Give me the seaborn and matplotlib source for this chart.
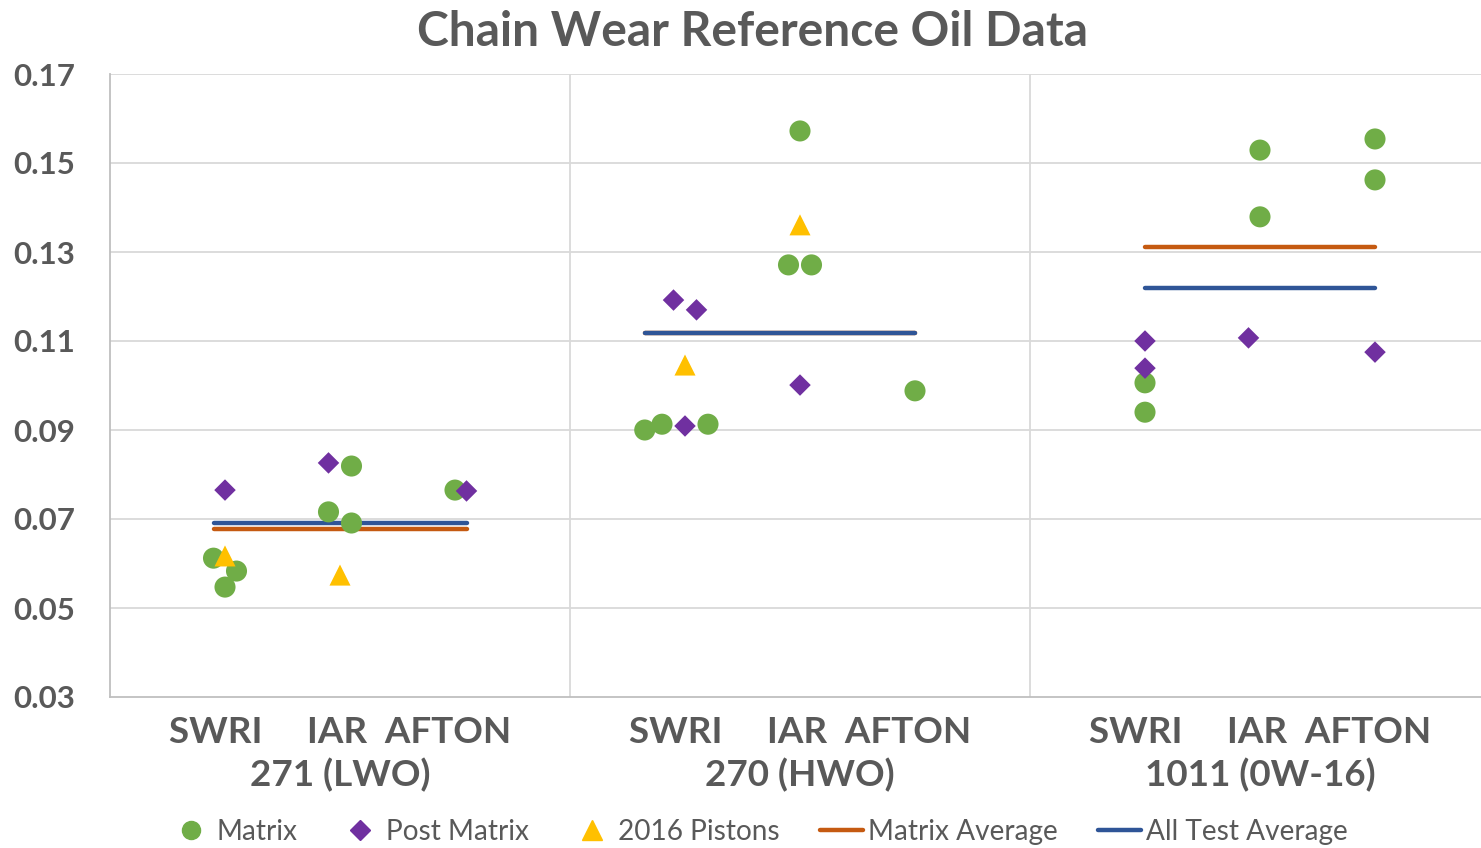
import matplotlib
matplotlib.use('Agg')
import matplotlib.pyplot as plt
from matplotlib.lines import Line2D
import pandas as pd
import seaborn as sns

# Points (x: SWRI=1,5,9  IAR=2,6,10  AFTON=3,7,11)
matrix_x = [0.9, 1.1, 1.0, 1.9, 2.1, 2.1, 3.0,
            6.0, 5.9, 6.1, 7.0, 4.65, 4.8, 5.2,
            10.0, 11.0, 11.0, 10.0, 9.0, 9.0]
matrix_y = [0.0612, 0.0583, 0.0547, 0.0716, 0.0819, 0.0691, 0.0765,
            0.1572, 0.1271, 0.1271, 0.0988, 0.0900, 0.0913, 0.0913,
            0.1529, 0.1554, 0.1462, 0.1379, 0.1006, 0.0940]

post_x = [1.0, 1.9, 3.1, 4.9, 5.1, 6.0, 5.0, 9.0, 9.0, 9.9, 11.0]
post_y = [0.0765, 0.0826, 0.0763, 0.1192, 0.1170, 0.1001, 0.0909,
          0.1100, 0.1039, 0.1107, 0.1075]

pistons_x = [1.0, 2.0, 6.0, 5.0]
pistons_y = [0.0617, 0.0574, 0.1361, 0.1046]

# averages per oil, drawn across each group
avg_start = [0.9, 4.65, 9.0]
avg_end = [3.1, 7.0, 11.0]
matrix_avg = [0.0678, 0.1119, 0.1311]
all_avg = [0.0691, 0.1118, 0.1219]

oils = ['271 (LWO)', '270 (HWO)', '1011 (0W-16)']
oil_centers = [2, 6, 10]
labs = 'SWRI     IAR  AFTON'

colors = {'Matrix': '#70AD47', 'Post Matrix': '#7030A0', '2016 Pistons': '#FFC000',
          'Matrix Average': '#C55A11', 'All Test Average': '#2F5597'}
grey = '#595959'

sns.set_theme(style='white')
plt.rcParams['font.family'] = ['Lato', 'DejaVu Sans']

pts = pd.concat([
    pd.DataFrame({'x': matrix_x, 'y': matrix_y, 'series': 'Matrix'}),
    pd.DataFrame({'x': post_x, 'y': post_y, 'series': 'Post Matrix'}),
    pd.DataFrame({'x': pistons_x, 'y': pistons_y, 'series': '2016 Pistons'}),
], ignore_index=True)

rows = []
for name, vals in [('Matrix Average', matrix_avg), ('All Test Average', all_avg)]:
    for i, v in enumerate(vals):
        rows.append({'x': avg_start[i], 'y': v, 'series': name, 'grp': i})
        rows.append({'x': avg_end[i], 'y': v, 'series': name, 'grp': i})
lines = pd.DataFrame(rows)

fig = plt.figure(figsize=(14.81, 8.48), dpi=100)
ax = fig.add_axes([110 / 1481, 1 - 697 / 848, 1380 / 1481, (697 - 74) / 848])

sns.lineplot(data=lines, x='x', y='y', hue='series', units='grp', estimator=None,
             sort=False, palette=colors, linewidth=3.2, legend=False, ax=ax,
             solid_capstyle='round', zorder=2)
sns.scatterplot(data=pts, x='x', y='y', hue='series', style='series',
                markers={'Matrix': 'o', 'Post Matrix': 'D', '2016 Pistons': '^'},
                s=230, palette=colors, linewidth=0, legend=False,
                ax=ax, zorder=3)
# diamonds a touch smaller than circles
coll = ax.collections[-1]
coll.set_sizes([230 if s != 'Post Matrix' else 120 for s in pts['series']])

ax.set_xlim(0, 12)
ax.set_ylim(0.03, 0.17)
ax.set_yticks([0.03, 0.05, 0.07, 0.09, 0.11, 0.13, 0.15, 0.17])
ax.set_yticklabels(['0.03', '0.05', '0.07', '0.09', '0.11', '0.13', '0.15', '0.17'],
                   fontsize=22.5, fontweight='bold', color=grey)
ax.set_xticks(oil_centers)
ax.set_xticklabels([labs + '\n' + o for o in oils], fontsize=26.5, fontweight='bold',
                   color=grey, linespacing=1.3)
ax.tick_params(axis='both', length=0)
ax.tick_params(axis='y', pad=25)
ax.tick_params(axis='x', pad=14)
ax.set_xlabel('')
ax.set_ylabel('')

for yv in [0.05, 0.07, 0.09, 0.11, 0.13, 0.15, 0.17]:
    ax.axhline(yv, color='#D9D9D9', linewidth=1.3, zorder=0)
for xv in [4, 8]:
    ax.axvline(xv, color='#D9D9D9', linewidth=1.3, zorder=0)
for side in ['top', 'right']:
    ax.spines[side].set_visible(False)
ax.spines['left'].set_color('#BFBFBF')
ax.spines['bottom'].set_color('#BFBFBF')
ax.spines['left'].set_linewidth(1.3)
ax.spines['bottom'].set_linewidth(1.3)

fig.text(0.508, 0.962, 'Chain Wear Reference Oil Data', ha='center', va='center',
         fontsize=34.6, fontweight='bold', color=grey)

handles = [
    Line2D([], [], ls='', marker='o', ms=13, color=colors['Matrix']),
    Line2D([], [], ls='', marker='D', ms=10, color=colors['Post Matrix']),
    Line2D([], [], ls='', marker='^', ms=14, color=colors['2016 Pistons']),
    Line2D([], [], lw=3.2, color=colors['Matrix Average']),
    Line2D([], [], lw=3.2, color=colors['All Test Average']),
]
names = ['Matrix', 'Post Matrix', '2016 Pistons', 'Matrix Average', 'All Test Average']
fig.legend(handles, names, loc='center', bbox_to_anchor=(0.512, 0.019), ncol=5,
           frameon=False, fontsize=20.2, labelcolor=grey, handlelength=1.55,
           handletextpad=0.15, columnspacing=1.45)

fig.savefig('out.png', dpi=100)
